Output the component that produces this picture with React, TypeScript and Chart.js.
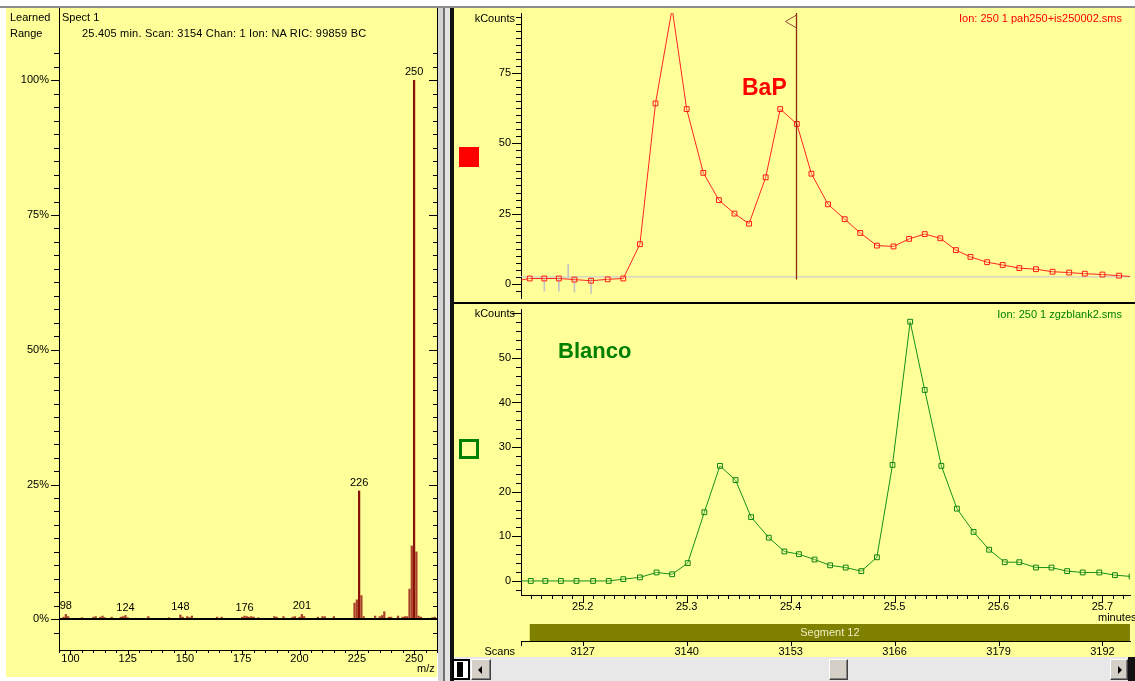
import { useEffect, useRef } from "react";
import { Chart, registerables } from "chart.js";

Chart.register(...registerables);

const FONT = '"Liberation Sans", Arial, sans-serif';
const YELLOW = "#ffff99";

// ---------- Mass spectrum (left) ----------
const spectrumMz = [97, 98, 99, 105, 110, 111, 113, 114, 115, 118, 122, 123, 124, 125, 134, 143, 148, 149, 151, 152, 153, 164, 166, 175, 176, 177, 178, 179, 180, 182, 189, 190, 193, 197, 198, 200, 201, 202, 208, 210, 211, 215, 224, 225, 226, 227, 228, 233, 235, 236, 237, 239, 240, 243, 245, 246, 247, 248, 249, 250, 251, 252, 253, 258, 259];
const spectrumIntensity = [0.4, 0.9, 0.5, 0.3, 0.4, 0.5, 0.4, 0.6, 0.3, 0.4, 0.4, 0.5, 0.7, 0.3, 0.5, 0.3, 0.8, 0.4, 0.5, 0.3, 0.6, 0.4, 0.4, 0.4, 0.6, 0.5, 0.4, 0.5, 0.4, 0.3, 0.5, 0.4, 0.5, 0.4, 0.5, 0.4, 0.9, 0.5, 0.4, 0.5, 0.5, 0.5, 3.0, 3.6, 23.8, 4.4, 0.5, 0.6, 0.5, 0.7, 1.4, 0.4, 0.4, 0.6, 0.4, 0.5, 0.5, 5.6, 13.6, 100, 12.5, 0.6, 0.4, 0.3, 0.4];
const spectrumPeakLabels = [98, 124, 148, 176, 201, 226, 250];
const mzTicks = [100, 125, 150, 175, 200, 225, 250];
const pctTicks = [0, 25, 50, 75, 100];

// ---------- Chromatograms (right) ----------
const bapTime = [25.137, 25.149, 25.163, 25.177, 25.192, 25.208, 25.224, 25.239, 25.255, 25.270, 25.286, 25.300, 25.316, 25.331, 25.346, 25.360, 25.376, 25.390, 25.406, 25.420, 25.436, 25.452, 25.467, 25.483, 25.499, 25.514, 25.529, 25.544, 25.559, 25.573, 25.589, 25.604, 25.620, 25.636, 25.652, 25.668, 25.683, 25.700, 25.716, 25.731];
const bapCounts = [1.1, 1.9, 1.9, 1.9, 1.5, 1.1, 1.6, 1.9, 14.1, 64.2, 98, 62.2, 39.5, 29.8, 25.0, 21.4, 37.9, 62.2, 56.9, 39.2, 28.3, 23.0, 18.1, 13.6, 13.3, 16.0, 17.7, 16.2, 12.0, 9.6, 7.7, 6.7, 5.6, 5.2, 4.3, 4.0, 3.6, 3.3, 2.9, 2.5];
const bapBaselineTime = [25.13, 25.462, 25.73];
const bapBaselineCounts = [1.95, 2.45, 2.45];
const bapMarkTime = [25.163, 25.177, 25.186, 25.192, 25.208];
const bapMarkLow = [-2.6, -2.6, 2.0, -3.0, -3.4];
const bapMarkHigh = [2.0, 2.0, 6.9, 2.0, 2.0];

const blancoTime = [25.136, 25.150, 25.164, 25.179, 25.194, 25.210, 25.225, 25.239, 25.255, 25.271, 25.286, 25.301, 25.317, 25.332, 25.347, 25.362, 25.379, 25.394, 25.408, 25.423, 25.438, 25.453, 25.468, 25.483, 25.498, 25.515, 25.529, 25.545, 25.560, 25.576, 25.591, 25.606, 25.620, 25.636, 25.651, 25.666, 25.681, 25.697, 25.712, 25.728];
const blancoCounts = [0, 0, 0, 0, 0, 0, 0, 0.4, 0.8, 1.9, 1.5, 4.0, 15.4, 25.8, 22.6, 14.3, 9.7, 6.6, 6.0, 4.8, 3.5, 3.0, 2.2, 5.3, 26.0, 58.1, 42.8, 25.8, 16.2, 11.0, 7.0, 4.2, 4.2, 3.0, 3.0, 2.2, 1.9, 1.9, 1.3, 1.0];

const minuteTicks = [25.2, 25.3, 25.4, 25.5, 25.6, 25.7];
const scanTicks = [3127, 3140, 3153, 3166, 3179, 3192];
const bapTicks = [0, 25, 50, 75];
const blancoTicks = [0, 10, 20, 30, 40, 50];

const cursorMinute = 25.405;
const cursorBottomCounts = 1.5;
const segmentStartMinute = 25.149;
const segmentLabel = "Segment 12";

// axis ranges
const X_MIN = 25.1406;
const X_MAX = 25.7265;
const SCAN_REF = 3127;
const SCAN_REF_MIN = 25.2;
const SCANS_PER_MIN = 130;
const SCAN_MIN = SCAN_REF + (X_MIN - SCAN_REF_MIN) * SCANS_PER_MIN;
const SCAN_MAX = SCAN_REF + (X_MAX - SCAN_REF_MIN) * SCANS_PER_MIN;

// ---------- helpers ----------
function steps(min: number, max: number, step: number): number[] {
  const out: number[] = [];
  const a = Math.ceil(min / step - 1e-9);
  const b = Math.floor(max / step + 1e-9);
  for (let i = a; i <= b; i++) out.push(Math.round(i * step * 1e6) / 1e6);
  return out;
}
const isMajor = (v: number, step: number) => Math.abs(v / step - Math.round(v / step)) < 1e-6;

function vTicks(ctx: any, scale: any, values: number[], x: number, dir: number, minorLen: number, majorLen: number, majorStep: number) {
  ctx.beginPath();
  for (const v of values) {
    const y = Math.round(scale.getPixelForValue(v)) + 0.5;
    const len = isMajor(v, majorStep) ? majorLen : minorLen;
    ctx.moveTo(x, y);
    ctx.lineTo(x + dir * len, y);
  }
  ctx.stroke();
}
function hTicks(ctx: any, scale: any, values: number[], y: number, dir: number, minorLen: number, majorLen: number, majorStep: number) {
  ctx.beginPath();
  for (const v of values) {
    const x = Math.round(scale.getPixelForValue(v)) + 0.5;
    const len = isMajor(v, majorStep) ? majorLen : minorLen;
    ctx.moveTo(x, y);
    ctx.lineTo(x, y + dir * len);
  }
  ctx.stroke();
}
const noPad = (a: any) => {
  a.paddingTop = 0;
  a.paddingBottom = 0;
  a.paddingLeft = 0;
  a.paddingRight = 0;
};
const tickFont = { family: FONT, size: 11 };
const border = { display: true, color: "#000", width: 1 };

// ---------- plugins ----------
const spectrumDeco = {
  id: "spectrumDeco",
  afterDraw(chart: any) {
    const { ctx, chartArea: a } = chart;
    const x = chart.scales.x;
    const y = chart.scales.y;
    ctx.save();
    ctx.strokeStyle = "#000";
    ctx.lineWidth = 1;
    ctx.beginPath();
    ctx.moveTo(a.right + 0.5, a.top);
    ctx.lineTo(a.right + 0.5, a.bottom);
    ctx.stroke();
    const yVals = steps(-2.5, 105, 2.5);
    vTicks(ctx, y, yVals, a.left + 1, -1, 6, 9, 25);
    vTicks(ctx, y, yVals, a.right, -1, 4, 8, 25);
    hTicks(ctx, x, steps(95, 260, 5), a.bottom, 1, 3, 5, 25);
    const y0 = Math.round(y.getPixelForValue(0));
    ctx.lineWidth = 2;
    ctx.beginPath();
    ctx.moveTo(a.left, y0);
    ctx.lineTo(a.right, y0);
    ctx.stroke();
    ctx.fillStyle = "#000";
    ctx.font = `11px ${FONT}`;
    ctx.textAlign = "center";
    ctx.textBaseline = "alphabetic";
    for (const m of spectrumPeakLabels) {
      const i = spectrumMz.indexOf(m);
      ctx.fillText(String(m), x.getPixelForValue(m), y.getPixelForValue(spectrumIntensity[i]) - 5);
    }
    ctx.restore();
  },
};

const bapDeco = {
  id: "bapDeco",
  afterDraw(chart: any) {
    const { ctx, chartArea: a } = chart;
    const x = chart.scales.x;
    const y = chart.scales.y;
    ctx.save();
    ctx.strokeStyle = "#000";
    ctx.lineWidth = 1;
    vTicks(ctx, y, steps(-2.5, 95, 2.5), a.left + 1, -1, 6, 10, 25);
    const cx = Math.round(x.getPixelForValue(cursorMinute)) + 0.5;
    ctx.strokeStyle = "#8b2a12";
    ctx.lineWidth = 1.3;
    ctx.beginPath();
    ctx.moveTo(cx, a.top);
    ctx.lineTo(cx, y.getPixelForValue(cursorBottomCounts));
    ctx.stroke();
    ctx.strokeStyle = "#8b4a30";
    ctx.lineWidth = 1;
    ctx.beginPath();
    ctx.moveTo(cx, a.top + 2);
    ctx.lineTo(cx - 11, a.top + 8.5);
    ctx.lineTo(cx, a.top + 15);
    ctx.stroke();
    ctx.restore();
  },
};

const blancoDeco = {
  id: "blancoDeco",
  afterDraw(chart: any) {
    const { ctx, chartArea: a } = chart;
    const x = chart.scales.x;
    const y = chart.scales.y;
    const s = chart.scales.scan;
    ctx.save();
    ctx.strokeStyle = "#000";
    ctx.lineWidth = 1;
    vTicks(ctx, y, steps(-2, 60, 2), a.left + 1, -1, 6, 10, 10);
    hTicks(ctx, x, steps(X_MIN, X_MAX, 0.01), a.bottom, 1, 4, 8, 0.1);
    // segment bar
    const sx = x.getPixelForValue(segmentStartMinute);
    const top = x.bottom - 17;
    ctx.fillStyle = "#808000";
    ctx.fillRect(sx, top, a.right - sx, 17);
    ctx.fillStyle = "#eeeec4";
    ctx.font = `11px ${FONT}`;
    ctx.textAlign = "center";
    ctx.textBaseline = "middle";
    ctx.fillText(segmentLabel, (sx + a.right) / 2, top + 9);
    // scan ticks
    ctx.strokeStyle = "#000";
    ctx.beginPath();
    for (const v of scanTicks) {
      const px = Math.round(s.getPixelForValue(v)) + 0.5;
      ctx.moveTo(px, s.top);
      ctx.lineTo(px, s.top + 5);
    }
    ctx.moveTo(a.left + 0.5, s.top);
    ctx.lineTo(a.left + 0.5, s.top + 5);
    ctx.stroke();
    ctx.restore();
  },
};

const baseOptions = {
  animation: false as const,
  responsive: false,
  events: [] as any[],
  plugins: { legend: { display: false }, tooltip: { enabled: false } },
};

export default function App() {
  const leftRef = useRef<HTMLCanvasElement>(null);
  const topRef = useRef<HTMLCanvasElement>(null);
  const bottomRef = useRef<HTMLCanvasElement>(null);

  useEffect(() => {
    const spectrum = new Chart(leftRef.current as HTMLCanvasElement, {
      type: "bar",
      data: {
        datasets: [
          {
            label: "Spect 1",
            data: spectrumMz.map((m, i) => ({ x: m, y: spectrumIntensity[i] })),
            backgroundColor: (c: any) => (c.raw && c.raw.y > 20 ? "#8a1208" : "#a8402a"),
            barThickness: 1.6,
            borderWidth: 0,
          } as any,
        ],
      },
      options: {
        ...baseOptions,
        layout: { padding: { left: 0, right: 3, top: 0, bottom: 0 } },
        scales: {
          x: {
            type: "linear",
            min: 95,
            max: 260,
            offset: false,
            grid: { display: false, tickLength: 2 },
            border,
            ticks: { font: tickFont, color: "#000", padding: 0, autoSkip: false, maxRotation: 0, callback: (v: any) => String(v) },
            afterBuildTicks: (ax: any) => {
              ax.ticks = mzTicks.map((value) => ({ value }));
            },
            afterFit: (ax: any) => {
              ax.height = 27;
              noPad(ax);
            },
          },
          y: {
            type: "linear",
            min: -5.7,
            max: 113.4,
            grid: { display: false, tickLength: 9 },
            border,
            ticks: { font: tickFont, color: "#000", padding: 1, autoSkip: false, callback: (v: any) => `${v}%` },
            afterBuildTicks: (ax: any) => {
              ax.ticks = pctTicks.map((value) => ({ value }));
            },
            afterFit: (ax: any) => {
              ax.width = 59;
              noPad(ax);
            },
          },
        },
      } as any,
      plugins: [spectrumDeco],
    });

    const bap = new Chart(topRef.current as HTMLCanvasElement, {
      type: "line",
      data: {
        datasets: [
          {
            label: "Ion: 250 1 pah250+is250002.sms",
            data: bapTime.map((t, i) => ({ x: t, y: bapCounts[i] })),
            borderColor: "#ff2424",
            borderWidth: 1,
            pointStyle: "rect",
            pointRadius: 3.4,
            pointBorderColor: "#ff1a1a",
            pointBackgroundColor: "rgba(255,255,153,0.2)",
            pointBorderWidth: 1,
            tension: 0,
            order: 0,
          },
          {
            label: "baseline",
            data: bapBaselineTime.map((t, i) => ({ x: t, y: bapBaselineCounts[i] })),
            borderColor: "#cdcdcd",
            borderWidth: 1.3,
            pointRadius: 0,
            stepped: "after",
            order: 1,
          },
          {
            type: "bar",
            label: "marks",
            data: bapMarkTime.map((t, i) => ({ x: t, y: [bapMarkLow[i], bapMarkHigh[i]] })),
            backgroundColor: "#c4c4c4",
            barThickness: 1,
            order: 2,
          } as any,
        ],
      },
      options: {
        ...baseOptions,
        layout: { padding: 0 },
        scales: {
          x: { type: "linear", display: false, min: X_MIN, max: X_MAX, offset: false },
          y: {
            type: "linear",
            min: -5.05,
            max: 96.4,
            grid: { display: false, tickLength: 8 },
            border,
            ticks: { font: tickFont, color: "#000", padding: 2, autoSkip: false, callback: (v: any) => String(v) },
            afterBuildTicks: (ax: any) => {
              ax.ticks = bapTicks.map((value) => ({ value }));
            },
            afterFit: (ax: any) => {
              ax.width = 67;
              noPad(ax);
            },
          },
        },
      } as any,
      plugins: [bapDeco],
    });

    const blanco = new Chart(bottomRef.current as HTMLCanvasElement, {
      type: "line",
      data: {
        datasets: [
          {
            label: "Ion: 250 1 zgzblank2.sms",
            data: blancoTime.map((t, i) => ({ x: t, y: blancoCounts[i] })),
            borderColor: "#16901a",
            borderWidth: 1,
            pointStyle: "rect",
            pointRadius: 3.4,
            pointBorderColor: "#0e8412",
            pointBackgroundColor: "rgba(255,255,153,0.2)",
            pointBorderWidth: 1,
            tension: 0,
          },
        ],
      },
      options: {
        ...baseOptions,
        layout: { padding: 0 },
        scales: {
          x: {
            type: "linear",
            position: "bottom",
            weight: 0,
            min: X_MIN,
            max: X_MAX,
            offset: false,
            grid: { display: false, tickLength: 3 },
            border,
            ticks: { font: tickFont, color: "#000", padding: 2, autoSkip: false, maxRotation: 0, callback: (v: any) => Number(v).toFixed(1) },
            afterBuildTicks: (ax: any) => {
              ax.ticks = minuteTicks.map((value) => ({ value }));
            },
            afterFit: (ax: any) => {
              ax.height = 46;
              noPad(ax);
            },
          },
          scan: {
            type: "linear",
            position: "bottom",
            weight: 1,
            min: SCAN_MIN,
            max: SCAN_MAX,
            offset: false,
            grid: { display: false, tickLength: 4 },
            border,
            ticks: { font: tickFont, color: "#000", padding: 0, autoSkip: false, maxRotation: 0, callback: (v: any) => String(v) },
            afterBuildTicks: (ax: any) => {
              ax.ticks = scanTicks.map((value) => ({ value }));
            },
            afterFit: (ax: any) => {
              ax.height = 16;
              noPad(ax);
            },
          },
          y: {
            type: "linear",
            min: -3.15,
            max: 60.95,
            grid: { display: false, tickLength: 8 },
            border,
            ticks: { font: tickFont, color: "#000", padding: 2, autoSkip: false, callback: (v: any) => String(v) },
            afterBuildTicks: (ax: any) => {
              ax.ticks = blancoTicks.map((value) => ({ value }));
            },
            afterFit: (ax: any) => {
              ax.width = 67;
              noPad(ax);
            },
          },
        },
      } as any,
      plugins: [blancoDeco],
    });

    return () => {
      spectrum.destroy();
      bap.destroy();
      blanco.destroy();
    };
  }, []);

  const abs = (s: any) => ({ position: "absolute" as const, whiteSpace: "nowrap" as const, lineHeight: "12px", ...s });
  const bevel = {
    background: "#d4d0c8",
    borderTop: "1px solid #ffffff",
    borderLeft: "1px solid #ffffff",
    borderRight: "1px solid #404040",
    borderBottom: "1px solid #404040",
    boxShadow: "inset -1px -1px 0 #808080",
    boxSizing: "border-box" as const,
  };

  return (
    <div
      style={{
        position: "fixed",
        left: 0,
        top: 0,
        width: 1135,
        height: 681,
        overflow: "hidden",
        background: "#ffffff",
        fontFamily: FONT,
        fontSize: 11,
        color: "#000",
      }}
    >
      {/* top strip */}
      <div style={abs({ left: 0, top: 6, width: 1135, height: 2, background: "#8c8c8c" })} />

      {/* left panel */}
      <div style={abs({ left: 6, top: 8, width: 431, height: 669, background: YELLOW })} />
      <canvas ref={leftRef} width={440} height={669} style={{ position: "absolute", left: 0, top: 8 }} />
      <div style={abs({ left: 10, top: 11 })}>Learned</div>
      <div style={abs({ left: 10, top: 27 })}>Range</div>
      <div style={abs({ left: 62, top: 11 })}>Spect 1</div>
      <div style={abs({ left: 82, top: 27, letterSpacing: "0.2px" })}>25.405 min. Scan: 3154 Chan: 1 Ion: NA RIC: 99859 BC</div>
      <div style={abs({ left: 417, top: 662 })}>m/z</div>

      {/* splitter */}
      <div style={abs({ left: 438, top: 8, width: 5, height: 673, background: "#d4d4d4" })} />
      <div style={abs({ left: 443, top: 8, width: 2, height: 673, background: "#707070" })} />
      <div style={abs({ left: 445, top: 8, width: 5, height: 673, background: "#e4e4e4" })} />
      <div style={abs({ left: 450, top: 8, width: 4, height: 673, background: "#111" })} />

      {/* right panel */}
      <div style={abs({ left: 454, top: 8, width: 681, height: 649, background: YELLOW })} />
      <canvas ref={topRef} width={681} height={295} style={{ position: "absolute", left: 454, top: 8 }} />
      <div style={abs({ left: 454, top: 302, width: 681, height: 2, background: "#000" })} />
      <canvas ref={bottomRef} width={681} height={353} style={{ position: "absolute", left: 454, top: 304 }} />

      <div style={abs({ right: 620, top: 12 })}>kCounts</div>
      <div style={abs({ right: 620, top: 307 })}>kCounts</div>
      <div style={abs({ right: 13, top: 12, color: "#ff0000" })}>Ion: 250 1 pah250+is250002.sms</div>
      <div style={abs({ right: 13, top: 308, color: "#008000" })}>Ion: 250 1 zgzblank2.sms</div>
      <div style={abs({ left: 742, top: 74, color: "#ff0000", fontWeight: "bold", fontSize: 23, lineHeight: "27px" })}>BaP</div>
      <div style={abs({ left: 558, top: 338, color: "#008000", fontWeight: "bold", fontSize: 22, lineHeight: "26px" })}>Blanco</div>
      <div style={abs({ left: 1098, top: 611 })}>minutes</div>
      <div style={abs({ right: 620, top: 645 })}>Scans</div>

      {/* legend squares */}
      <div style={abs({ left: 459, top: 147, width: 20, height: 20, background: "#ff0000" })} />
      <div style={abs({ left: 459, top: 439, width: 20, height: 20, border: "3px solid #008000", boxSizing: "border-box" })} />

      {/* scrollbar */}
      <div style={abs({ left: 454, top: 657, width: 681, height: 24, background: "#e8e8e8" })} />
      <div style={abs({ left: 452, top: 659, width: 18, height: 21, border: "2px solid #000", background: "#fff", boxSizing: "border-box" })}>
        <div style={{ position: "absolute", left: 3, top: 1, width: 6, height: 15, background: "#000" }} />
      </div>
      <div style={abs({ left: 471, top: 659, width: 20, height: 21, ...bevel })}>
        <div style={{ position: "absolute", left: 6, top: 6, width: 0, height: 0, borderTop: "4px solid transparent", borderBottom: "4px solid transparent", borderRight: "4px solid #000" }} />
      </div>
      <div style={abs({ left: 829, top: 659, width: 19, height: 21, ...bevel })} />
      <div style={abs({ left: 1110, top: 659, width: 18, height: 21, ...bevel })}>
        <div style={{ position: "absolute", left: 7, top: 6, width: 0, height: 0, borderTop: "4px solid transparent", borderBottom: "4px solid transparent", borderLeft: "4px solid #000" }} />
      </div>
      <div style={abs({ left: 1128, top: 657, width: 7, height: 24, background: "#111" })} />
    </div>
  );
}
